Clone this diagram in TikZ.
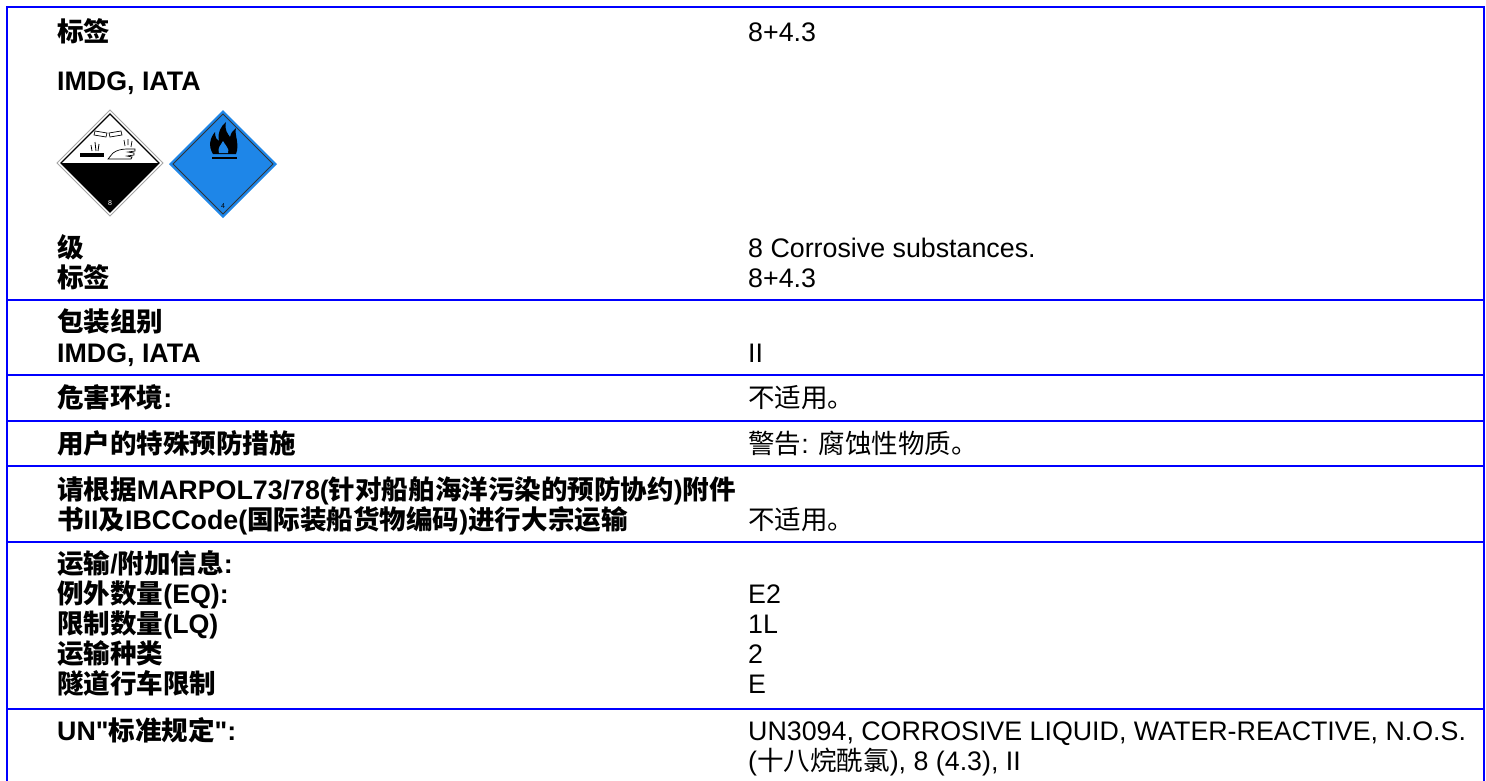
\documentclass[tikz,border=0pt]{standalone}
\usepackage{fontspec}
\setmainfont{Liberation Sans}
\newfontfamily\qfont{Liberation Sans}[Ligatures=TeXOff]
\newfontfamily\cjk{Noto Sans CJK SC}[Scale=0.99]
\newcommand{\zh}[1]{{\cjk #1}}
\newcommand{\dq}{{\qfont "}}
\definecolor{tblblue}{RGB}{0,0,255}
\definecolor{labelblue}{RGB}{30,134,232}
\begin{document}
\begin{tikzpicture}[x=1pt,y=-1pt,
  tbl/.style={draw=tblblue,line width=1.9pt},
  lefttxt/.style={anchor=base west,inner sep=0pt,font=\fontsize{26.8}{30}\selectfont\bfseries},
  righttxt/.style={anchor=base west,inner sep=0pt,font=\fontsize{26.8}{30}\selectfont},
  lbl/.style={inner sep=0pt,font=\fontsize{7}{7}\selectfont}]
\useasboundingbox (0,0) rectangle (1486,780);
\fill[white] (0,0) rectangle (1486,780);
% table frame
\draw[tbl] (7,781) -- (7,7) -- (1484,7) -- (1484,781);
\foreach \yy in {300,375,421,466,542,709}
  \draw[tbl] (7,\yy) -- (1484,\yy);
% left column
\node[lefttxt] (l1) at (57,41) {\zh{标签}};
\node[lefttxt] (l2) at (57,90) {IMDG, IATA};
\node[lefttxt] (l3) at (57,257) {\zh{级}};
\node[lefttxt] (l4) at (57,287) {\zh{标签}};
\node[lefttxt] (l5) at (57,331) {\zh{包装组别}};
\node[lefttxt] (l6) at (57,362) {IMDG, IATA};
\node[lefttxt] (l7) at (57,407) {\zh{危害环境}:};
\node[lefttxt] (l8) at (57,453) {\zh{用户的特殊预防措施}};
\node[lefttxt] (l9) at (57,499) {\zh{请根据}MARPOL73/78(\zh{针对船舶海洋污染的预防协约})\zh{附件}};
\node[lefttxt] (l10) at (57,529) {\zh{书}II\zh{及}IBCCode(\zh{国际装船货物编码})\zh{进行大宗运输}};
\node[lefttxt] (l11) at (57,573) {\zh{运输}/\zh{附加信息}:};
\node[lefttxt] (l12) at (57,603) {\zh{例外数量}(EQ):};
\node[lefttxt] (l13) at (57,633) {\zh{限制数量}(LQ)};
\node[lefttxt] (l14) at (57,663) {\zh{运输种类}};
\node[lefttxt] (l15) at (57,693) {\zh{隧道行车限制}};
\node[lefttxt] (l16) at (57,740) {UN\dq\zh{标准规定}\dq:};
% right column
\node[righttxt] (r1) at (748,41) {8+4.3};
\node[righttxt] (r2) at (748,257) {8 Corrosive substances.};
\node[righttxt] (r3) at (748,287) {8+4.3};
\node[righttxt] (r4) at (748,362) {II};
\node[righttxt] (r5) at (748,407) {\zh{不适用。}};
\node[righttxt] (r6) at (748,453) {\zh{警告}: \zh{腐蚀性物质。}};
\node[righttxt] (r7) at (748,529) {\zh{不适用。}};
\node[righttxt] (r8) at (748,603) {E2};
\node[righttxt] (r9) at (748,633) {1L};
\node[righttxt] (r10) at (748,663) {2};
\node[righttxt] (r11) at (748,693) {E};
\node[righttxt] (r12) at (748,740) {UN3094, CORROSIVE LIQUID, WATER-REACTIVE, N.O.S.};
\node[righttxt] (r13) at (748,770) {(\zh{十八烷酰氯}), 8 (4.3), II};
% class 8 corrosive label
\filldraw[fill=white,draw=black!35,line width=0.8pt] (110,110) -- (163,163) -- (110,216) -- (57,163) -- cycle;
\fill[black] (61,163) -- (159,163) -- (110,212) -- cycle;
\draw[black,line width=1.3pt] (110,114) -- (159,163) -- (110,212) -- (61,163) -- cycle;
\filldraw[fill=white,draw=black,line width=0.7pt] (95,131) -- (107,133) -- (106,137) -- (94,135) -- cycle;
\filldraw[fill=white,draw=black,line width=0.7pt] (109,133) -- (121,131) -- (122,135) -- (110,137) -- cycle;
\draw[black,line width=0.8pt] (91,145) -- (92,151) (95,142) -- (96,151) (99,144) -- (98,151);
\fill[black] (80,153) rectangle (104,157);
\filldraw[fill=white,draw=black,line width=0.7pt] (108,159) -- (113,153) .. controls (117,150) and (122,149) .. (127,149) -- (135,149) -- (135,151) -- (128,152) -- (134,153) -- (134,155) -- (127,156) -- (132,157) -- (131,159) -- cycle;
\draw[black,line width=0.7pt] (124,140) -- (125,146) (128,139) -- (128,145) (132,141) -- (131,147);
\node[lbl,text=white] (n8) at (110,203) {8};
% class 4.3 label
\fill[labelblue] (223,110) -- (277,164) -- (223,218) -- (169,164) -- cycle;
\draw[black!80,line width=0.9pt] (223,114) -- (273,164) -- (223,214) -- (173,164) -- cycle;
\fill[black] (213,154) .. controls (208,146) and (210,138) .. (215,132)
  .. controls (215,138) and (217,140) .. (219,141)
  .. controls (217,133) and (221,126) .. (226,122)
  .. controls (224,130) and (228,134) .. (230,137)
  .. controls (231,133) and (233,130) .. (236,128)
  .. controls (234,134) and (240,144) .. (236,154) -- cycle;
\fill[labelblue] (219,153) .. controls (217,148) and (221,145) .. (223,141)
  .. controls (225,145) and (230,149) .. (228,153) -- cycle;
\draw[black,line width=1.2pt] (212,158) -- (237,158);
\node[lbl,text=black] (n4) at (223,206) {4};
\end{tikzpicture}
\end{document}
